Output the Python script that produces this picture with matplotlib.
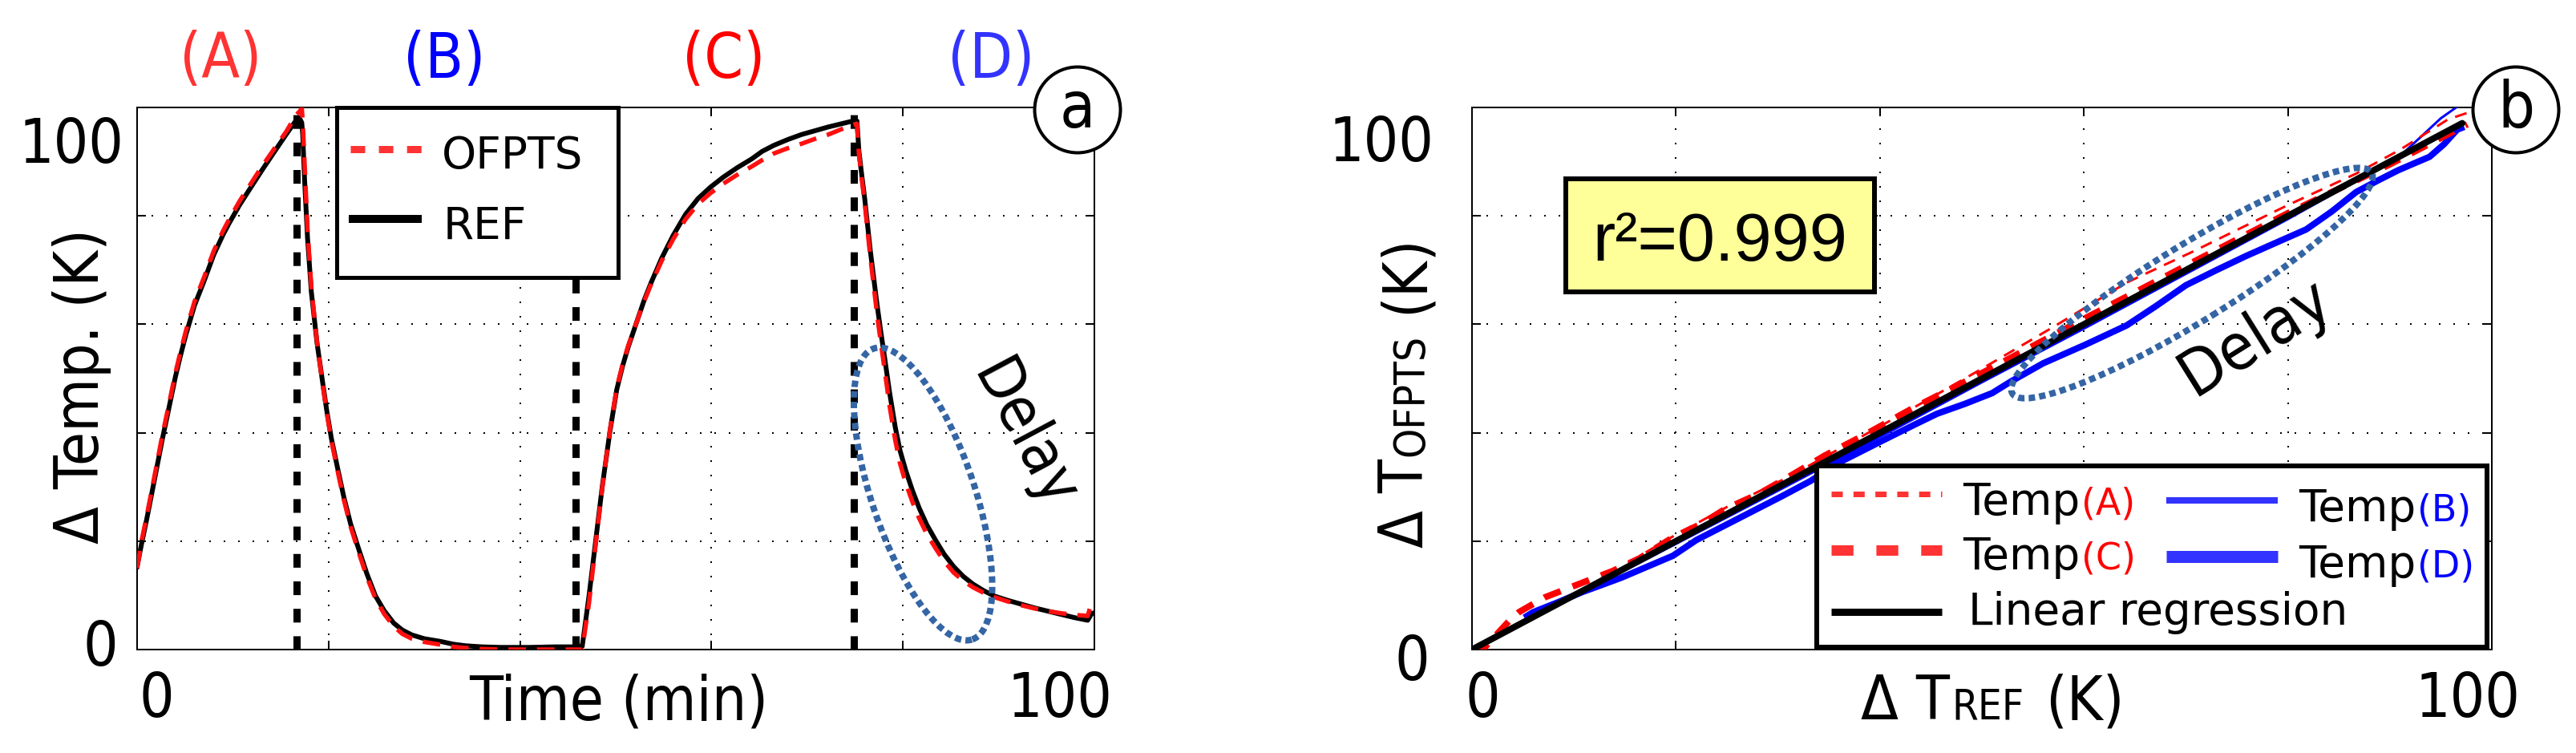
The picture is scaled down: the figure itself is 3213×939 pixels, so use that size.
import matplotlib
matplotlib.use("Agg")
import matplotlib.pyplot as plt
from matplotlib.patches import Ellipse, Rectangle, Circle
from matplotlib.lines import Line2D
from matplotlib.transforms import ScaledTranslation, IdentityTransform

plt.rcParams['font.family'] = ['DejaVu Sans']
plt.rcParams['font.stretch'] = 'condensed'

# ---------------- panel (a): temperature vs time (one block per phase) ----------------
time_A = [0, 0.5, 1, 1.5, 2, 2.6, 3.2, 4, 4.5, 5.1, 6, 7, 8, 9, 9.6, 10.7, 11.9, 13, 14.1, 15.6, 16.6, 17.0, 17.2]
ref_A = [15.3, 19.8, 24, 28.5, 33, 38.5, 43.5, 50.3, 54, 58.1, 63.5, 68, 72.8, 76.6, 78.6, 82.0, 85.3, 88.3,
         91.2, 95.1, 97.6, 97.9, 97.2]
ofp_A = [15.0, 20.3, 24.6, 29.1, 33.7, 39.2, 44.2, 51.0, 54.7, 58.8, 64.2, 68.7, 73.5, 77.3, 79.3, 82.7, 86.0,
         89.0, 91.8, 95.6, 98.6, 99.3, 99.9]

time_B = [17.3, 17.5, 17.8, 18.2, 18.8, 19.3, 19.8, 20.3, 21, 21.6, 22.3, 23.1, 24, 24.9, 25.8, 26.8, 27.7,
          28.7, 30, 31.7, 33, 34.3, 36, 38, 41, 43.6, 46.2]
ref_B = [95, 86.5, 76, 66, 56.5, 50.3, 44.2, 38.9, 33, 28.1, 23.2, 18.8, 14, 9.9, 7.2, 4.9, 3.6, 2.7, 2.0, 1.5,
         1.0, 0.7, 0.5, 0.4, 0.4, 0.5, 0.5]
ofp_B = [97.5, 89.5, 77.5, 66.8, 56.6, 50.0, 43.8, 38.5, 32.5, 27.6, 22.7, 18.2, 13.4, 9.4, 6.6, 4.3, 2.9, 2.0,
         1.4, 0.9, 0.5, 0.3, 0.1, 0, 0, 0, 0]

time_C = [46.5, 47.2, 47.9, 48.6, 49.4, 50.1, 50.7, 51.3, 52.3, 53, 53.7, 54.8, 56, 57.3, 58.6, 59.9, 61.2,
          62.7, 64.2, 65.3, 66.5, 68, 69.4, 70.8, 72.2, 73.6, 75.0]
ref_C = [0.6, 9.8, 20, 30.2, 40.3, 47.9, 52.2, 55.8, 61, 64.6, 67.7, 72.2, 76.4, 80.3, 83.2, 85.3, 87.1, 88.9,
         90.5, 91.9, 93.0, 94.1, 95.0, 95.7, 96.4, 97.0, 97.6]
ofp_C = [0.0, 8.5, 19.3, 30.0, 40.5, 48.2, 52.5, 56.0, 61.0, 64.4, 67.4, 71.7, 75.7, 79.4, 82.2, 84.2, 85.9,
         87.6, 89.1, 90.3, 91.5, 92.5, 93.3, 94.2, 95.0, 96.0, 96.9]

time_D = [75.2, 75.4, 75.7, 76.0, 76.6, 77.3, 77.7, 78.1, 78.6, 79.2, 79.7, 80.3, 81, 81.7, 82.5, 83.4, 84.3,
          85.3, 86.3, 87.3, 88.4, 89.5, 90.9, 92.3, 93.7, 95.1, 96.5, 97.9, 99.3, 99.7, 100]
ref_D = [97.5, 92, 87.5, 83.3, 73.5, 63.6, 58.5, 53.7, 47.5, 41, 36.7, 33, 29.3, 26.1, 23, 20.2, 17.6, 15.3,
         13.5, 12.1, 10.9, 9.9, 9.1, 8.4, 7.7, 7.1, 6.5, 5.9, 5.4, 6.6, 6.8]
ofp_D = [97.0, 91.5, 86.8, 82.5, 72.3, 61.8, 56.5, 51.5, 45, 38.6, 34.3, 30.7, 27.2, 24.2, 21.3, 18.7, 16.3,
         14.2, 12.7, 11.5, 10.5, 9.7, 8.9, 8.2, 7.6, 7.1, 6.7, 6.4, 6.2, 8.6, 8.8]

phase_bounds = [16.7, 45.8, 74.9]
phase_labels = ['(A)', '(B)', '(C)', '(D)']
phase_colors = ['#ff3333', '#0000ff', '#ff0000', '#3333ff']
phase_label_x = [8.7, 32.1, 61.3, 89.2]

# ---------------- panel (b): OFPTS vs REF ----------------
a_ref = [15.3, 20, 25, 31, 38.3, 43.1, 50, 57, 64.2, 70.9, 75, 79.9, 86.7, 91, 95.7, 97.6]
a_ofp = [16.0, 21.2, 26.3, 31.8, 39.4, 44.4, 51.8, 59.5, 67.7, 73.6, 77.4, 81.9, 87.8, 92.2, 97.8, 99.0]
c_ref = [0, 1.2, 3.7, 4.6, 7.1, 10.5, 13.8, 16.4, 19.7, 22.5, 24.8, 28.2, 31, 34.6, 38.3, 43.1, 50, 60, 70,
         80, 90, 97.6]
c_ofp = [0, 0.3, 5.4, 6.9, 9.6, 12.1, 14.5, 16.8, 20.7, 23.2, 25.9, 28.8, 31.8, 35.8, 39.4, 44.4, 51, 61,
         70.8, 80.5, 89.5, 96.9]
b_ref = [96.5, 95, 93, 91.2, 88, 80, 70, 60, 50, 40, 30, 20, 10, 5, 2.7, 1.5, 0.5]
b_ofp = [100, 98, 94.5, 91.4, 87.8, 79.4, 69.3, 59.2, 49.3, 39.2, 29.3, 19.5, 9.7, 5.3, 3.0, 1.4, 0.0]
d_ref = [97.0, 96.6, 95.3, 93.9, 92.4, 90.8, 88.8, 86.7, 84.3, 81.8, 78.9, 75.9, 73.0, 70.0, 67.1, 64.2,
         60.1, 56.0, 52.8, 51.0, 48.3, 45.6, 43.3, 40.2, 36.0, 33.2, 30.4, 27.6, 24.8, 22.0, 19.7, 17.2,
         14.7, 12.7, 10.8, 8.4, 6.0, 5.4]
d_ofp = [96.2, 95.9, 93.2, 90.9, 89.7, 88.4, 86.5, 84.4, 80.8, 77.5, 75.1, 72.6, 70.0, 67.2, 63.4, 59.8,
         56.2, 52.8, 49.4, 47.3, 45.3, 43.5, 41.4, 38.5, 34.5, 31.1, 28.3, 25.6, 22.9, 20.2, 17.3, 15.3,
         13.3, 11.9, 10.6, 8.7, 6.9, 6.2]
lr_ref = [0, 97.1]
lr_ofp = [0, 97.1]
r2_text = 'r\u00b2=0.999'

ticks = [0, 20, 40, 60, 80, 100]
tick_labels = ['0', '', '', '', '', '100']

# ---------------- figure / layout ----------------
W, H = 3213, 939
fig = plt.figure(figsize=(W / 100, H / 100), dpi=100)
axA = fig.add_axes([171 / W, 1 - 810 / H, 1194 / W, 676 / H])
axB = fig.add_axes([1836 / W, 1 - 810 / H, 1272 / W, 676 / H])

FS_TICK = 55
FS_LABEL = 55
FS_SUB = 38
FS_PHASE = 56
FS_LEG = 39.5
FS_LEG_SUB = 33
FS_R2 = 61
FS_CIRC = 58
FS_DELAY = 55
PT = 0.72  # points per pixel at 100 dpi


def style_axes(ax, xpad_px, ypad_px):
    ax.set_xlim(0, 100)
    ax.set_ylim(0, 100)
    ax.set_xticks(ticks)
    ax.set_xticklabels(tick_labels)
    ax.set_yticks(ticks)
    ax.set_yticklabels(tick_labels)
    ax.tick_params(direction='in', length=11 * PT, width=2 * PT, top=True, right=True,
                   labelsize=FS_TICK, colors='black')
    ax.tick_params(axis='x', pad=xpad_px * PT)
    ax.tick_params(axis='y', pad=ypad_px * PT)
    for s in ax.spines.values():
        s.set_linewidth(2 * PT)
    ax.grid(True, color='black', linestyle=(0, (1, 8)), linewidth=2 * PT)
    ax.set_axisbelow(True)


def offset_labels(ax, xoffs, yoffs):
    for lab, (dx, dy) in zip(ax.get_xticklabels(), xoffs):
        lab.set_transform(lab.get_transform() + ScaledTranslation(dx / 100, dy / 100, fig.dpi_scale_trans))
    for lab, (dx, dy) in zip(ax.get_yticklabels(), yoffs):
        lab.set_transform(lab.get_transform() + ScaledTranslation(dx / 100, dy / 100, fig.dpi_scale_trans))


style_axes(axA, 26, 17)
style_axes(axB, 26, 48)
z4 = [(0, 0)] * 4
offset_labels(axA, [(24, 0)] + z4 + [(-43, 0)], [(-7, 9)] + z4 + [(0, -40)])
offset_labels(axB, [(13, 0)] + z4 + [(-30, 0)], [(-5, -9)] + z4 + [(0, -38)])

# ---------------- panel (a) drawing ----------------
time_min = time_A + time_B + time_C + time_D
ref_temp = ref_A + ref_B + ref_C + ref_D
ofpts_temp = ofp_A + ofp_B + ofp_C + ofp_D

for b in phase_bounds:
    axA.axvline(b, color='black', lw=9 * PT, linestyle=(0, (1.9, 1.9)), zorder=2)
axA.plot(time_min, ref_temp, color='black', lw=6 * PT, zorder=3, solid_joinstyle='round')
axA.plot(time_min, ofpts_temp, color='#ff1010', lw=5.5 * PT, linestyle=(0, (4, 2.5)), zorder=4)

for lab, col, xp in zip(phase_labels, phase_colors, phase_label_x):
    axA.text(xp, 105.5, lab, color=col, fontsize=FS_PHASE, ha='center', va='baseline', clip_on=False)

axA.text(92.6, 39.5, 'Delay', rotation=-62, fontsize=FS_DELAY, ha='center', va='center',
         rotation_mode='anchor', zorder=6)

ELL_COLOR = '#3465a4'


def px_ellipse(ax, cx, cy, w_px, h_px, angle):
    tr = fig.dpi_scale_trans + ScaledTranslation(cx, cy, ax.transData)
    e = Ellipse((0, 0), w_px / 100, h_px / 100, angle=angle, transform=tr, fill=False,
                ec=ELL_COLOR, lw=8 * PT, linestyle=(0, (1, 0.65)), clip_on=False, zorder=7)
    ax.add_patch(e)


px_ellipse(axA, 82.1, 28.7, 128, 383, 18.7)


def ax_frac(ax, x_px, y_px_down):
    bb = ax.get_position()
    x0, y0 = bb.x0 * W, (1 - bb.y1) * H
    return (x_px - x0) / (bb.width * W), 1 - (y_px_down - y0) / (bb.height * H)


def add_box(ax, x0, y0, x1, y1, fc, lw_px, z=10):
    fx0, fy1 = ax_frac(ax, x0, y0)
    fx1, fy0 = ax_frac(ax, x1, y1)
    ax.add_patch(Rectangle((fx0, fy0), fx1 - fx0, fy1 - fy0, transform=ax.transAxes, fc=fc,
                           ec='black', lw=lw_px * PT, clip_on=False, zorder=z))


def add_handle(ax, x0, x1, y, color, lw_px, ls):
    fx0, fy = ax_frac(ax, x0, y)
    fx1, _ = ax_frac(ax, x1, y)
    ax.add_line(Line2D([fx0, fx1], [fy, fy], transform=ax.transAxes, color=color, lw=lw_px * PT,
                       linestyle=ls, clip_on=False, zorder=11, solid_capstyle='butt', dash_capstyle='butt'))


def place_pieces(pieces, x, y_down, rotation=0, align='center', stretch='condensed'):
    r = fig.canvas.get_renderer()
    y = H - y_down
    arts, lens = [], []
    for s, fs, col, gap in pieces:
        t = fig.text(0, 0, s, fontsize=fs, color=col, rotation=rotation, rotation_mode='anchor',
                     ha='left', va='baseline', transform=IdentityTransform(), zorder=12,
                     fontstretch=stretch)
        bb = t.get_window_extent(renderer=r)
        arts.append(t)
        lens.append((gap, bb.width if rotation == 0 else bb.height))
    total = sum(g + L for g, L in lens)
    pos = -total / 2 if align == 'center' else 0
    for t, (g, L) in zip(arts, lens):
        pos += g
        if rotation == 0:
            t.set_position((x + pos, y))
        else:
            t.set_position((x, y + pos))
        pos += L
    return arts


# left legend
add_box(axA, 420, 134, 771, 346, 'white', 5)
add_handle(axA, 437, 542, 186, '#ff3333', 9, (0, (2, 1.9)))
add_handle(axA, 435, 526, 273, 'black', 10, '-')
place_pieces([('OFPTS', FS_LEG, 'black', 0)], 551, 210, align='left', stretch='normal')
place_pieces([('REF', FS_LEG, 'black', 0)], 553, 298, align='left', stretch='normal')

# axis labels panel (a)
fig.text(772, H - 898, 'Time (min)', fontsize=FS_LABEL, ha='center', va='baseline',
         transform=IdentityTransform())
fig.text(123, H - 482, '\u0394 Temp. (K)', fontsize=FS_LABEL, ha='center', va='baseline',
         rotation=90, rotation_mode='anchor', transform=IdentityTransform())

# ---------------- panel (b) drawing ----------------
axB.plot(d_ref, d_ofp, color='#0000ff', lw=8 * PT, zorder=3, solid_joinstyle='round')
axB.plot(b_ref, b_ofp, color='#0000ff', lw=3 * PT, zorder=4)
axB.plot(c_ref, c_ofp, color='#ff0000', lw=8 * PT, linestyle=(0, (2.75, 2)), zorder=4)
axB.plot(a_ref, a_ofp, color='#ff0000', lw=3 * PT, linestyle=(0, (5, 3.5)), zorder=4)
axB.plot(lr_ref, lr_ofp, color='black', lw=8 * PT, zorder=5, solid_capstyle='round')

px_ellipse(axB, 70.6, 67.6, 526, 95, 31.6)
axB.text(76.8, 57.5, 'Delay', rotation=32, fontsize=FS_DELAY + 3, ha='center', va='center',
         rotation_mode='anchor', zorder=6)

add_box(axB, 1953, 223, 2338, 364, '#ffff99', 6, z=9)
place_pieces([(r2_text, FS_R2, 'black', 0)], 2145, 325, align='center', stretch='normal')
for t in fig.texts[-1:]:
    t.set_fontfamily('Liberation Sans')
# re-centre the r^2 text after the family change
_r = fig.canvas.get_renderer()
_t = fig.texts[-1]
_t.set_position((0, H - 325))
_bb = _t.get_window_extent(renderer=_r)
_t.set_position((2145 - _bb.width / 2, H - 325))

# right legend
add_box(axB, 2266, 581, 3102, 807, 'white', 6)
leg_items = [
    ('(A)', '#ff0000', 2284, 2422, 616, 2448, 642, '#ff3333', 7, (0, (2, 1.9))),
    ('(B)', '#0000ff', 2702, 2841, 624, 2867, 650, '#3333ff', 8, '-'),
    ('(C)', '#ff0000', 2284, 2422, 686, 2448, 710, '#ff3333', 13, (0, (2.1, 2.2))),
    ('(D)', '#0000ff', 2702, 2841, 694, 2867, 720, '#3333ff', 15, '-'),
]
for tag, tcol, hx0, hx1, hy, tx, ty, hcol, hlw, hls in leg_items:
    add_handle(axB, hx0, hx1, hy, hcol, hlw, hls)
    place_pieces([('Temp', FS_LEG, 'black', 0), (tag, FS_LEG_SUB, tcol, 2)], tx, ty, align='left',
                 stretch='normal')
add_handle(axB, 2284, 2422, 763, 'black', 9, '-')
place_pieces([('Linear regression', FS_LEG, 'black', 0)], 2455, 779, align='left', stretch='normal')

# axis labels panel (b)
place_pieces([('\u0394 T', FS_LABEL, 'black', 0), ('REF', FS_SUB, 'black', 3),
              ('(K)', FS_LABEL, 'black', 26)], 2485, 897)
place_pieces([('\u0394 T', FS_LABEL, 'black', 0), ('OFPTS', FS_SUB, 'black', 3),
              ('(K)', FS_LABEL, 'black', 26)], 1775, 488, rotation=90)

# circled panel letters
for ax, (px, py), letter in [(axA, (1344, 137), 'a'), (axB, (3138, 137), 'b')]:
    fx, fy = ax_frac(ax, px, py)
    tr = fig.dpi_scale_trans + ScaledTranslation(fx, fy, ax.transAxes)
    ax.add_patch(Circle((0, 0), 0.535, transform=tr, fc='white', ec='black', lw=4 * PT,
                        clip_on=False, zorder=20))
    ax.text(fx, fy, letter, transform=ax.transAxes, fontsize=FS_CIRC, ha='center', va='center',
            zorder=21, clip_on=False)

fig.savefig('out.png', dpi=100)
